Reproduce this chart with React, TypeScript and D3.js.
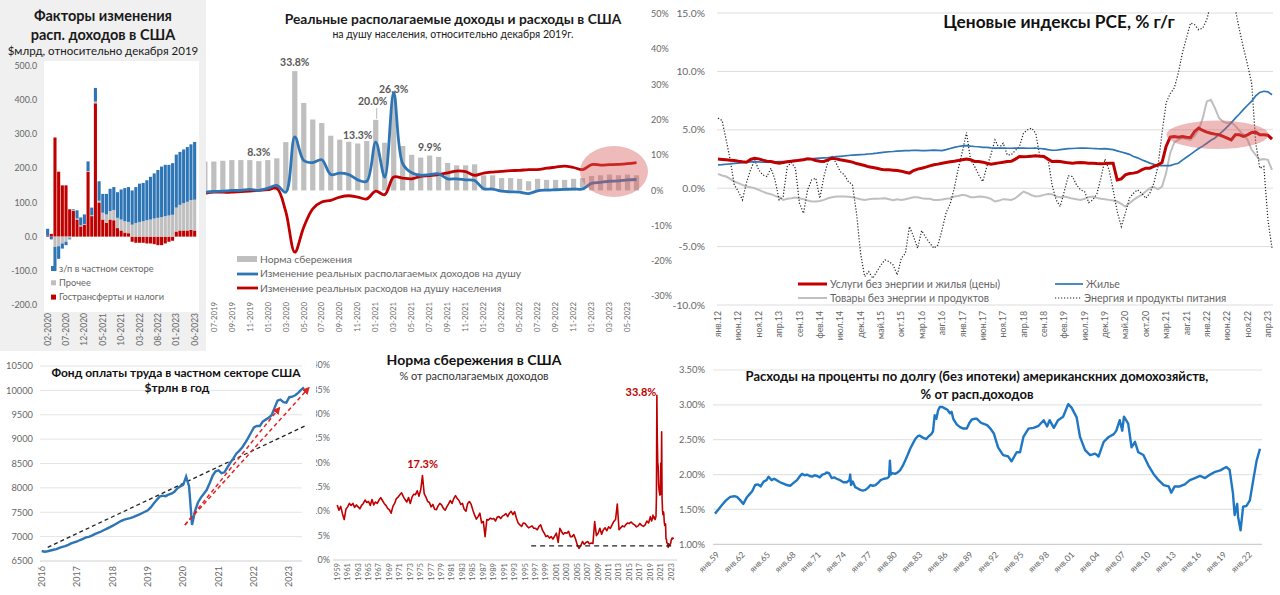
import React from 'react';
import * as d3 from 'd3';

const FONT = "Lato, 'Open Sans', 'DejaVu Sans', sans-serif";
const TXT = '#666666';
const RED = '#C00000';
const BLUE = '#2E75B6';
const LGRAY = '#BFBFBF';
const GRID = '#DDDDDD';

function monthLabels(y0: number, m0: number, n: number): string[] {
  const out: string[] = [];
  for (let i = 0; i < n; i++) {
    const t = m0 - 1 + i;
    const y = y0 + Math.floor(t / 12);
    const m = (t % 12) + 1;
    out.push(`${String(m).padStart(2, '0')}-${y}`);
  }
  return out;
}

// ---------------- Panel 1: factors of disposable income ----------------
const p1Cats = monthLabels(2020, 2, 41);
const p1Red = [3, 8, 290, 190, 150, 150, 80, 75, 50, 30, 35, 190, 60, 390, 100, 50, 40, 50, 48, 25, 18, 12, 10, -15, -18, -18, -18, -20, -20, -22, -25, -25, -20, -15, -12, 15, 18, 18, 18, 20, 18];
const p1Gray = [0, 0, -30, -28, -20, -15, -5, 3, 3, 3, 2, 2, 3, 5, 5, 20, 25, 25, 30, 30, 32, 33, 33, 35, 40, 43, 45, 48, 50, 53, 55, 57, 60, 62, 64, 70, 75, 80, 84, 87, 90];
const p1Blue = [20, -8, -70, -37, -15, -10, -3, 2, 24, 23, 28, 28, 22, 40, 57, 55, 60, 65, 67, 75, 88, 97, 102, 100, 105, 112, 112, 117, 125, 132, 140, 148, 150, 148, 151, 155, 155, 157, 160, 163, 169];
const p1YTicks = [500, 400, 300, 200, 100, 0, -100, -200];
const p1Legend = ['з/п в частном секторе', 'Прочее', 'Гострансферты и налоги'];

// ---------------- Panel 2: real income & spending ----------------
const incCats = monthLabels(2019, 6, 49);
const incSave = [8.2, 8.2, 8.4, 8.6, 8.6, 8.6, 8.3,
  8.6, 9.1, 13.7, 33.8, 24.8, 20.1, 19.1, 15.5, 14.4, 13.8, 13.3, 14.0,
  20.0, 13.5, 26.3, 12.6, 10.1, 9.3, 9.9, 9.5, 7.8, 7.1, 7.1, 7.4,
  4.3, 4.3, 3.5, 3.5, 3.3, 2.6, 3.3, 3.0, 3.0, 3.0, 3.3, 3.5,
  4.1, 4.3, 4.5, 4.3, 4.5, 4.3];
const incIncome = [-0.5, -0.3, -0.2, 0, 0, 0.3, 0,
  0.6, 1.4, -0.5, 15.2, 8.5, 7.9, 8.7, 4.5, 4.9, 4.5, 3.0, 2.6,
  13.7, 3.8, 27.7, 7.6, 5.0, 4.3, 4.5, 4.7, 3.3, 3.3, 3.0, 2.8,
  0.5, 0.4, -0.2, -0.4, -0.5, -0.9, -0.1, 0.1, 0.2, 0.3, 0.4, 0.4,
  2.0, 2.3, 2.6, 2.7, 3.0, 3.1];
const incSpend = [-0.8, -0.5, -0.5, -0.5, -0.3, -0.2, 0,
  0.2, 0.6, -6.0, -17.5, -10.4, -5.2, -3.3, -2.8, -1.9, -1.5, -1.9, -2.4,
  -0.2, -1.2, 3.8, 3.5, 3.3, 4.0, 4.2, 4.5, 5.0, 5.5, 5.3, 4.3,
  4.9, 5.2, 5.4, 5.6, 5.7, 5.9, 5.9, 6.3, 6.6, 6.9, 6.5, 5.9,
  7.3, 7.2, 7.3, 7.4, 7.6, 7.9];
const incLabelIdx = [6, 10, 17, 19, 21, 25];
const incYTicks = [50, 40, 30, 20, 10, 0, -10, -20, -30];
const incLegend = ['Норма сбережения', 'Изменение  реальных располагаемых доходов на душу', 'Изменение  реальных расходов на душу населения'];

// ---------------- Panel 3: PCE price indices ----------------
const pceServ = [2.49, 2.46, 2.43, 2.40, 2.37, 2.31, 2.26, 2.23, 2.46, 2.57,
  2.51, 2.40, 2.31, 2.29, 2.20, 2.14, 2.20, 2.26, 2.31, 2.34,
  2.40, 2.43, 2.51, 2.49, 2.37, 2.31, 2.29, 2.43, 2.57, 2.51,
  2.43, 2.37, 2.31, 2.23, 2.11, 2.03, 1.94, 1.83, 1.77, 1.71,
  1.63, 1.57, 1.57, 1.54, 1.51, 1.46, 1.37, 1.29, 1.51, 1.63,
  1.71, 1.80, 1.91, 2.00, 2.06, 2.14, 2.20, 2.26, 2.31, 2.37,
  2.43, 2.49, 2.43, 2.29, 2.29, 2.23, 2.14, 2.06, 2.11, 2.17,
  2.23, 2.29, 2.31, 2.49, 2.71, 2.69, 2.71, 2.74, 2.77, 2.74,
  2.71, 2.49, 2.29, 2.31, 2.29, 2.23, 2.17, 2.14, 2.17, 2.20,
  2.17, 2.14, 2.14, 2.11, 2.09, 2.11, 2.14, 2.14, 0.71, 0.80,
  1.14, 1.26, 1.29, 1.37, 1.57, 1.71, 1.71, 1.86, 2.00, 2.20,
  3.57, 4.37, 4.43, 4.37, 4.43, 4.37, 4.34, 4.86, 5.14, 4.94,
  4.80, 4.71, 4.63, 4.57, 4.43, 4.29, 4.14, 4.57, 4.57, 4.43,
  4.57, 4.77, 4.80, 4.57, 4.57, 4.54, 4.20];
const pceHous = [2.00, 2.02, 2.05, 2.08, 2.12, 2.14, 2.18, 2.22, 2.26, 2.27,
  2.25, 2.22, 2.22, 2.24, 2.26, 2.27, 2.28, 2.30, 2.34, 2.38,
  2.43, 2.47, 2.50, 2.52, 2.55, 2.58, 2.60, 2.62, 2.66, 2.70,
  2.73, 2.76, 2.80, 2.84, 2.86, 2.88, 2.90, 2.93, 2.96, 3.00,
  3.05, 3.09, 3.12, 3.14, 3.18, 3.20, 3.22, 3.22, 3.25, 3.24,
  3.22, 3.22, 3.24, 3.26, 3.24, 3.22, 3.30, 3.40, 3.50, 3.57,
  3.62, 3.64, 3.60, 3.57, 3.55, 3.50, 3.49, 3.45, 3.43, 3.43,
  3.43, 3.42, 3.42, 3.43, 3.43, 3.43, 3.42, 3.42, 3.43, 3.40,
  3.37, 3.30, 3.25, 3.25, 3.30, 3.35, 3.38, 3.40, 3.42, 3.43,
  3.43, 3.42, 3.40, 3.38, 3.37, 3.38, 3.35, 3.30, 3.20, 3.10,
  3.00, 2.90, 2.71, 2.60, 2.43, 2.30, 2.15, 2.05, 1.96, 1.94,
  1.94, 1.94, 2.05, 2.14, 2.40, 2.65, 2.90, 3.15, 3.40, 3.60,
  3.85, 4.10, 4.30, 4.60, 4.90, 5.25, 5.60, 6.00, 6.35, 6.75,
  7.10, 7.45, 7.90, 8.20, 8.30, 8.25, 8.00];
const pceGoods = [1.23, 1.09, 1.00, 0.80, 0.57, 0.43, 0.29, 0.14, 0.09, 0.00,
  -0.14, -0.29, -0.43, -0.51, -0.66, -0.77, -1.00, -0.91, -0.86, -0.80,
  -0.86, -0.94, -1.06, -1.14, -1.14, -1.09, -1.00, -0.86, -0.77, -0.71,
  -0.71, -0.71, -0.74, -0.77, -0.86, -0.94, -1.00, -0.94, -0.91, -0.91,
  -0.89, -0.86, -0.94, -1.03, -0.94, -1.00, -0.94, -0.86, -0.77, -0.77,
  -0.86, -0.91, -0.91, -1.00, -1.00, -0.97, -0.91, -0.86, -0.71, -0.66,
  -0.57, -0.63, -0.77, -0.77, -0.71, -0.74, -0.80, -0.91, -1.14, -1.06,
  -0.94, -0.97, -1.00, -0.86, -0.57, -0.29, -0.43, -0.60, -0.71, -0.66,
  -0.57, -0.49, -0.51, -0.71, -0.77, -0.71, -0.80, -0.89, -0.94, -1.00,
  -0.91, -0.77, -0.71, -0.83, -0.91, -0.94, -1.00, -1.06, -1.14, -1.34,
  -1.57, -1.29, -1.00, -0.77, -0.57, -0.29, 0.00, 0.09, -0.09, 0.14,
  1.29, 3.00, 3.91, 4.14, 4.29, 4.20, 4.14, 4.49, 5.00, 6.00,
  7.43, 7.57, 6.86, 6.00, 5.71, 5.57, 5.66, 5.34, 4.94, 4.57,
  4.14, 3.29, 2.86, 2.43, 2.49, 2.43, 1.57];
const pceEnergy = [6.00, 5.80, 4.14, 2.43, 0.29, -0.29, -1.00, 0.49, 1.57, 2.43,
  1.57, 1.14, 1.00, 1.71, 0.71, -1.00, -0.71, 1.86, 2.20, 1.71,
  -1.29, -2.14, -0.14, 0.71, 0.86, -0.86, 1.00, 2.29, 2.71, 2.14,
  1.43, 1.14, 0.57, 0.29, -2.14, -5.57, -7.57, -7.14, -7.71, -7.14,
  -6.57, -6.14, -6.29, -6.57, -7.43, -6.00, -5.57, -3.29, -4.14, -5.14,
  -3.63, -4.20, -4.71, -5.14, -4.86, -3.57, -2.09, -1.34, 0.00, 1.71,
  3.14, 4.77, 2.43, 1.86, 1.14, 0.57, 1.86, 2.86, 4.14, 3.43,
  3.86, 2.86, 2.86, 3.23, 3.57, 4.71, 5.00, 5.14, 4.71, 2.71,
  2.77, 2.57, 0.29, -1.00, -1.57, -0.29, 1.06, 1.00, 0.29, -0.14,
  -0.29, -1.23, -1.00, -0.49, 0.86, 2.49, 1.57, -0.14, -2.00, -3.29,
  -2.14, -0.86, -0.43, -0.14, -0.43, -0.86, -0.43, 0.43, 1.86, 4.71,
  7.29, 8.09, 8.57, 9.86, 11.57, 12.86, 14.14, 14.00, 13.57, 13.71,
  14.43, 15.86, 17.00, 18.00, 18.50, 18.00, 16.50, 15.29, 13.57, 12.00,
  10.57, 9.00, 3.90, 1.71, 1.86, -2.71, -5.14];
const pceTicks = ['янв.12', 'июн.12', 'ноя.12', 'апр.13', 'сен.13', 'фев.14', 'июл.14', 'дек.14', 'май.15', 'окт.15', 'мар.16', 'авг.16', 'янв.17', 'июн.17', 'ноя.17', 'апр.18', 'сен.18', 'фев.19', 'июл.19', 'дек.19', 'май.20', 'окт.20', 'мар.21', 'авг.21', 'янв.22', 'июн.22', 'ноя.22', 'апр.23'];
const pceYTicks = [15, 10, 5, 0, -5, -10];

// ---------------- Panel 4: private payroll ----------------
const payroll = [
  6705, 6690, 6700, 6715, 6730, 6745, 6770, 6790, 6805, 6830, 6860, 6880,
  6900, 6930, 6955, 6985, 6995, 7020, 7050, 7075, 7100, 7130, 7160, 7190,
  7220, 7255, 7290, 7325, 7350, 7365, 7380, 7400, 7425, 7450, 7480, 7510,
  7540, 7600, 7680, 7750, 7820, 7840, 7830, 7860, 7880, 7920, 7990, 8030,
  8060, 8230, 8030, 7240, 7520, 7700, 7800, 7880, 7960, 8100, 8250, 8340,
  8360, 8300, 8320, 8420, 8520, 8600, 8700, 8760, 8830, 8920, 9020, 9130,
  9240, 9270, 9270, 9360, 9400, 9440, 9490, 9640, 9790, 9810, 9760, 9750,
  9860, 9870, 9900, 9950, 10010, 10060];
const payTrendX = [2016.17, 2023.5];
const payTrendY = [6780, 9290];
const payArrowAX = [2020.05, 2022.72];
const payArrowAY = [7240, 9640];
const payArrowBX = [2020.05, 2023.55];
const payArrowBY = [7240, 10050];
const payYTicks = [10500, 10000, 9500, 9000, 8500, 8000, 7500, 7000, 6500];
const payXTicks = [2016, 2017, 2018, 2019, 2020, 2021, 2022, 2023];

// ---------------- Panel 5: saving rate ----------------
const savEarly = [
  11.3, 10.2, 11.0, 9.5, 8.3, 10.4, 10.9, 11.6, 11.2, 11.6, 10.8, 11.3, 10.9, 10.5, 11.2,
  11.6, 12.3, 11.8, 12.0, 11.2, 12.4, 11.3, 11.9, 11.6, 12.3, 12.8, 12.2, 11.6, 11.2, 10.6,
  10.3, 9.6, 11.0, 11.6, 12.6, 12.9, 13.4, 13.8, 13.0, 12.4, 11.9, 12.8, 11.6, 12.9, 13.5,
  13.4, 14.2, 13.1, 14.4, 17.3, 13.6, 12.9, 12.0, 11.8, 10.9, 11.4, 10.4, 10.3, 11.1, 11.6,
  11.3, 10.6, 10.2, 10.9, 11.5, 12.2, 11.6, 12.6, 13.2, 12.6, 12.2, 11.4, 11.6, 10.4, 10.0,
  11.6, 12.0, 11.4, 10.2, 9.2, 8.4, 8.9, 9.6, 7.6, 7.9, 4.8, 8.3, 8.2, 8.6, 8.4,
  8.5, 8.0, 8.8, 8.9, 8.5, 9.0, 9.2, 9.5, 8.9, 9.6, 10.0, 9.3, 9.9, 8.6, 7.6,
  7.2, 6.9, 7.6, 7.5, 7.0, 6.6, 6.8, 7.0, 6.5, 6.5, 6.2, 6.9, 7.2, 6.1, 5.5,
  4.8, 5.0, 4.5, 4.8, 4.3, 4.9, 5.5, 3.6, 6.5, 5.8, 5.3, 5.6, 5.5, 5.9, 4.8,
  4.8, 5.2, 4.3, 3.1, 2.4, 2.9, 3.8, 3.2, 3.6, 3.8, 3.3, 3.5, 3.4, 7.9, 5.0,
  5.5, 6.5, 5.3, 6.2, 6.6, 6.0, 6.8, 6.5, 7.2, 7.9, 8.3, 11.5, 6.2, 6.6, 7.0,
  6.8, 7.3, 7.6, 7.5, 7.8, 7.4, 7.2, 6.8, 7.0, 7.5, 7.1, 6.9, 7.2, 8.0, 7.6];
const savRecent = [
  8.9, 8.5, 8.2, 8.0, 8.3, 8.6, 9.2, 8.9, 8.8, 8.5, 8.8, 8.3,
  8.6, 9.0, 12.9, 33.8, 24.8, 20.1, 19.1, 15.5, 14.4, 13.8, 13.3, 14.0,
  19.9, 13.5, 26.3, 12.6, 10.1, 9.3, 9.9, 9.5, 7.8, 7.1, 7.1, 7.4,
  4.3, 4.3, 3.5, 3.5, 3.3, 2.6, 3.3, 3.0, 3.0, 3.0, 3.3, 3.5,
  4.1, 4.3, 4.5, 4.3, 4.5, 4.3];
const savFloorX = [1996.2, 2023.6];
const savFloorY = [2.9, 2.9];
const savYTicks = [40, 35, 30, 25, 20, 15, 10, 5, 0];
const savXTicks = d3.range(1959, 2024, 2);

// ---------------- Panel 6: debt service ----------------
const debtYears = [1959.0, 1959.4, 1959.8, 1960.3, 1960.8, 1961.3, 1961.6, 1962.0, 1962.35, 1962.75,
  1963.1, 1963.4, 1963.75, 1964.1, 1964.4, 1964.75, 1965.1, 1965.35, 1965.7, 1966.0,
  1966.3, 1966.7, 1967.1, 1967.5, 1967.9, 1968.3, 1968.7, 1969.0, 1969.3, 1969.6,
  1969.9, 1970.2, 1970.5, 1970.8, 1971.1, 1971.4, 1971.7, 1972.0, 1972.2, 1972.5,
  1972.8, 1973.1, 1973.4, 1973.8, 1974.2, 1974.6, 1974.9, 1975.0, 1975.1, 1975.3,
  1975.6, 1975.9, 1976.2, 1976.5, 1976.8, 1977.1, 1977.4, 1977.7, 1978.0, 1978.3,
  1978.6, 1979.0, 1979.4, 1979.6, 1979.7, 1979.8, 1980.0, 1980.3, 1980.6, 1980.9,
  1981.2, 1981.5, 1981.8, 1982.1, 1982.4, 1982.7, 1983.0, 1983.2, 1983.6, 1984.0,
  1984.3, 1984.6, 1984.8, 1985.0, 1985.2, 1985.4, 1985.6, 1985.9, 1986.2, 1986.5,
  1986.8, 1987.0, 1987.2, 1987.6, 1988.0, 1988.4, 1988.8, 1989.1, 1989.4, 1989.7,
  1990.0, 1990.5, 1991.2, 1991.6, 1992.0, 1992.5, 1993.1, 1993.7, 1994.1, 1994.7,
  1995.1, 1995.5, 1996.1, 1996.7, 1997.3, 1997.9, 1998.3, 1998.6, 1999.1, 1999.6,
  2000.2, 2000.8, 2001.2, 2001.8, 2002.2, 2002.8, 2003.4, 2004.0, 2004.4, 2005.0,
  2005.6, 2006.2, 2006.5, 2006.9, 2007.2, 2007.4, 2007.9, 2008.3, 2008.7, 2009.1,
  2009.7, 2010.3, 2010.9, 2011.5, 2012.1, 2012.7, 2013.0, 2013.4, 2014.0, 2014.6,
  2015.2, 2015.8, 2016.4, 2017.0, 2017.6, 2018.2, 2018.8, 2019.5, 2019.9, 2020.3,
  2020.5, 2020.8, 2020.9, 2021.2, 2021.5, 2021.9, 2022.3, 2022.7, 2023.1, 2023.5];
const debtVals = [1.44, 1.50, 1.56, 1.63, 1.68, 1.69, 1.68, 1.63, 1.58, 1.67,
  1.72, 1.76, 1.85, 1.86, 1.83, 1.90, 1.92, 1.97, 1.92, 1.94,
  1.92, 1.89, 1.87, 1.85, 1.84, 1.88, 1.92, 1.97, 2.01, 1.99,
  2.00, 1.98, 1.97, 1.99, 1.98, 1.96, 2.00, 2.01, 2.03, 2.02,
  1.95, 1.96, 1.94, 1.92, 1.89, 1.89, 1.92, 2.00, 1.85, 1.90,
  1.82, 1.80, 1.78, 1.77, 1.78, 1.81, 1.85, 1.84, 1.85, 1.88,
  1.92, 1.94, 1.95, 1.97, 2.20, 2.00, 2.02, 2.01, 2.03, 2.06,
  2.12, 2.20, 2.28, 2.37, 2.44, 2.51, 2.55, 2.56, 2.53, 2.51,
  2.55, 2.58, 2.62, 2.85, 2.80, 2.92, 2.97, 2.97, 2.95, 2.93,
  2.88, 2.90, 2.80, 2.72, 2.68, 2.66, 2.66, 2.74, 2.79, 2.80,
  2.80, 2.74, 2.71, 2.66, 2.59, 2.39, 2.28, 2.26, 2.19, 2.32,
  2.32, 2.54, 2.66, 2.67, 2.70, 2.78, 2.69, 2.78, 2.67, 2.78,
  2.83, 3.01, 2.96, 2.82, 2.54, 2.35, 2.28, 2.30, 2.26, 2.47,
  2.54, 2.58, 2.63, 2.78, 2.63, 2.83, 2.73, 2.39, 2.47, 2.32,
  2.28, 2.13, 2.01, 1.92, 1.85, 1.83, 1.74, 1.83, 1.83, 1.86,
  1.92, 1.95, 1.98, 1.95, 2.00, 2.04, 2.06, 2.11, 2.07, 1.73,
  1.42, 1.58, 1.40, 1.20, 1.54, 1.55, 1.63, 1.92, 2.20, 2.37];
const debtYTicks = [3.5, 3.0, 2.5, 2.0, 1.5, 1.0];
const debtXTicks = d3.range(1959, 2023, 3);

// ======================================================================

function PanelFactors() {
  const x = d3.scaleBand<string>().domain(p1Cats).range([45.5, 45.5 + 41 * 3.69]).padding(0.16);
  const y = d3.scaleLinear().domain([-200, 500]).range([305, 65.7]);
  const rows = p1Cats.map((c, i) => ({ cat: c, red: p1Red[i], gray: p1Gray[i], blue: p1Blue[i] }));
  const series = d3.stack<any>().keys(['red', 'gray', 'blue']).offset(d3.stackOffsetDiverging)(rows);
  const col: Record<string, string> = { red: RED, gray: LGRAY, blue: BLUE };
  const legCols = [BLUE, LGRAY, RED];
  return (
    <g>
      <rect x={0} y={0} width={206} height={351} fill="#F0F0F0" />
      <rect x={44} y={61} width={155} height={251} fill="#FFFFFF" />
      <text x={103} y={21} textAnchor="middle" fontSize={14.5} fontWeight={700} fill="#1a1a1a">Факторы изменения</text>
      <text x={103} y={40} textAnchor="middle" fontSize={14.5} fontWeight={700} fill="#1a1a1a">расп. доходов в США</text>
      <text x={103} y={55} textAnchor="middle" fontSize={11.5} fill="#1a1a1a">$млрд, относительно декабря 2019</text>
      {p1YTicks.map((t) => (
        <text key={t} x={37} y={y(t)} dy="0.35em" textAnchor="end" fontSize={8.8} fill={TXT}>{t.toFixed(1)}</text>
      ))}
      {series.map((s) => (
        <g key={s.key} fill={col[s.key]}>
          {s.map((d: any, i: number) => (
            <rect key={i} x={x(p1Cats[i])} y={y(Math.max(d[0], d[1]))} width={x.bandwidth()} height={Math.abs(y(d[0]) - y(d[1]))} />
          ))}
        </g>
      ))}
      {p1Legend.map((t, i) => (
        <g key={t}>
          <rect x={51} y={266 + i * 14.3} width={5} height={5} fill={legCols[i]} />
          <text x={59} y={268.5 + i * 14.3} dy="0.35em" fontSize={9.3} fill={TXT}>{t}</text>
        </g>
      ))}
      {p1Cats.map((c, i) => i % 5 === 0 ? (
        <text key={c} transform={`translate(${(x(c) as number) + x.bandwidth() / 2},${313}) rotate(-90)`} textAnchor="end" dy="0.35em" fontSize={8.5} fill={TXT}>{c}</text>
      ) : null)}
    </g>
  );
}

function PanelIncome() {
  const step = 9.07;
  const x = d3.scaleBand<string>().domain(incCats).range([203 - step / 2, 203 + (incCats.length - 0.5) * step]).padding(0.42);
  const cx = (i: number) => (x(incCats[i]) as number) + x.bandwidth() / 2;
  const y = d3.scaleLinear().domain([-30, 50]).range([296.3, 14]);
  const line = d3.line<number>().x((_, i) => cx(i)).y((d) => y(d)).curve(d3.curveCatmullRom.alpha(0.5));
  return (
    <g>
      <text x={453} y={24} textAnchor="middle" fontSize={13.8} fontWeight={700} fill="#1a1a1a">Реальные располагаемые доходы и расходы в США</text>
      <text x={453} y={38} textAnchor="middle" fontSize={10.5} fill="#1a1a1a">на душу населения, относительно декабря 2019г.</text>
      {incYTicks.map((t) => (
        <text key={t} x={651} y={y(t)} dy="0.35em" fontSize={9} fill={TXT}>{`${t}%`}</text>
      ))}
      {incSave.map((v, i) => (
        <rect key={i} x={x(incCats[i])} y={y(v)} width={x.bandwidth()} height={y(0) - y(v)} fill={LGRAY} />
      ))}
      <path d={line(incSpend) || ''} fill="none" stroke={RED} strokeWidth={2.8} />
      <path d={line(incIncome) || ''} fill="none" stroke={BLUE} strokeWidth={2.8} />
      {incLabelIdx.map((i) => {
        const v = incSave[i];
        const lead = i === 19;
        const ty = lead ? y(v) - 15 : y(v) - 5;
        return (
          <g key={i}>
            {lead && <line x1={cx(i) + 1} x2={cx(i) + 1} y1={y(v) - 12} y2={y(v) - 1} stroke="#A6A6A6" strokeWidth={0.8} />}
            <text x={cx(i) + (lead ? -3 : 0)} y={ty} textAnchor="middle" fontSize={10.5} fontWeight={700} fill="#595959">{`${v.toFixed(1)}%`}</text>
          </g>
        );
      })}
      <ellipse cx={614} cy={171.5} rx={34} ry={25.5} fill="rgb(215,90,90)" fillOpacity={0.42} />
      <rect x={237} y={256} width={20} height={6} fill={LGRAY} />
      <line x1={237} x2={258} y1={274} y2={274} stroke={BLUE} strokeWidth={2.8} />
      <line x1={237} x2={258} y1={288} y2={288} stroke={RED} strokeWidth={2.8} />
      {incLegend.map((t, i) => (
        <text key={t} x={260} y={259.5 + i * 14.3} dy="0.35em" fontSize={10.3} fill={TXT}>{t}</text>
      ))}
      {incCats.map((c, i) => i % 2 === 1 ? (
        <text key={c} transform={`translate(${cx(i)},${302}) rotate(-90)`} textAnchor="end" dy="0.35em" fontSize={7.8} fill={TXT}>{c}</text>
      ) : null)}
    </g>
  );
}

function PanelPCE() {
  const x = d3.scaleLinear().domain([0, 136]).range([718, 1272]);
  const y = d3.scaleLinear().domain([-10, 15]).range([305, 13]);
  const line = d3.line<number>().x((_, i) => x(i)).y((d) => y(d));
  return (
    <g>
      {pceYTicks.map((t) => (
        <g key={t}>
          <line x1={717} x2={1273} y1={y(t)} y2={y(t)} stroke={GRID} strokeWidth={1} />
          <text x={705} y={y(t)} dy="0.35em" textAnchor="end" fontSize={10.3} fill={TXT}>{`${t.toFixed(1)}%`}</text>
        </g>
      ))}
      <text x={1059} y={28} textAnchor="middle" fontSize={17.3} fontWeight={700} fill="#111">Ценовые индексы PCE, % г/г</text>
      <g clipPath="url(#pceClip)">
        <path d={line(pceGoods) || ''} fill="none" stroke={LGRAY} strokeWidth={2} />
        <path d={line(pceEnergy) || ''} fill="none" stroke="#222" strokeWidth={1.2} strokeDasharray="1.2 1.8" />
        <path d={line(pceHous) || ''} fill="none" stroke={BLUE} strokeWidth={1.7} />
        <path d={line(pceServ) || ''} fill="none" stroke={RED} strokeWidth={3} />
      </g>
      <ellipse cx={1217.5} cy={134.8} rx={51} ry={14.2} fill="rgb(215,90,90)" fillOpacity={0.42} />
      {pceTicks.map((t, k) => (
        <text key={t} transform={`translate(${x(k * 5)},${311}) rotate(-90)`} textAnchor="end" dy="0.35em" fontSize={8.8} fill={TXT}>{t}</text>
      ))}
      <line x1={798} x2={827} y1={284} y2={284} stroke={RED} strokeWidth={3} />
      <text x={830} y={284} dy="0.35em" fontSize={10.6} fill={TXT}>Услуги без энергии и жилья (цены)</text>
      <line x1={1055} x2={1083} y1={284} y2={284} stroke={BLUE} strokeWidth={1.7} />
      <text x={1086} y={284} dy="0.35em" fontSize={10.6} fill={TXT}>Жилье</text>
      <line x1={798} x2={827} y1={298} y2={298} stroke={LGRAY} strokeWidth={2} />
      <text x={830} y={298} dy="0.35em" fontSize={10.6} fill={TXT}>Товары без энергии и продуктов</text>
      <line x1={1055} x2={1081} y1={298} y2={298} stroke="#222" strokeWidth={1.2} strokeDasharray="1.2 1.8" />
      <text x={1084} y={298} dy="0.35em" fontSize={10.6} fill={TXT}>Энергия и продукты питания</text>
    </g>
  );
}

function PanelSaving() {
  const x = d3.scaleLinear().domain([1959, 2023]).range([337, 671]);
  const y = d3.scaleLinear().domain([0, 40]).range([560, 365]);
  const pts: [number, number][] = [
    ...savEarly.map((v, i) => [1959 + i / 3 + 1 / 24, v] as [number, number]),
    ...savRecent.map((v, j) => [2019 + j / 12 + 1 / 24, v] as [number, number]),
  ];
  const line = d3.line<[number, number]>().x((d) => x(d[0])).y((d) => y(d[1]));
  return (
    <g>
      {savYTicks.map((t) => (
        <text key={t} x={330} y={y(t)} dy="0.35em" textAnchor="end" fontSize={9} fill={TXT}>{`${t}%`}</text>
      ))}
      <text x={474} y={365} textAnchor="middle" fontSize={14} fontWeight={700} fill="#111">Норма сбережения в США</text>
      <text x={474} y={380} textAnchor="middle" fontSize={11} fill="#333">%  от располагаемых доходов</text>
      <line x1={333} x2={677} y1={y(0)} y2={y(0)} stroke="#D0D0D0" strokeWidth={1} />
      <path d={line(pts) || ''} fill="none" stroke={RED} strokeWidth={1.6} strokeLinejoin="round" />
      <line x1={x(savFloorX[0])} x2={x(savFloorX[1])} y1={y(savFloorY[0])} y2={y(savFloorY[1])} stroke="#222" strokeWidth={1.3} strokeDasharray="5 4" />
      <text x={x(1975.4)} y={y(17.3) - 8} textAnchor="middle" fontSize={11} fontWeight={700} fill={RED}>17.3%</text>
      <text x={x(2020.3) - 16} y={y(33.8) + 1} textAnchor="middle" fontSize={11} fontWeight={700} fill={RED}>33.8%</text>
      {savXTicks.map((t) => (
        <text key={t} transform={`translate(${x(t)},${563}) rotate(-90)`} textAnchor="end" dy="0.35em" fontSize={7.6} fill={TXT}>{t}</text>
      ))}
    </g>
  );
}

function PanelPayroll() {
  const x = d3.scaleLinear().domain([2016, 2023]).range([41.7, 289.3]);
  const y = d3.scaleLinear().domain([6500, 10500]).range([561, 366]);
  const line = d3.line<number>().x((_, i) => x(2016 + i / 12)).y((d) => y(d));
  return (
    <g>
      <rect x={0} y={352} width={316} height={243} fill="#FFFFFF" />
      {payYTicks.map((t) => (
        <g key={t}>
          <line x1={40} x2={302} y1={y(t)} y2={y(t)} stroke={t === 6500 ? '#CFCFCF' : '#E4E4E4'} strokeWidth={1} />
          <text x={33} y={y(t)} dy="0.35em" textAnchor="end" fontSize={9.3} fill={TXT}>{t}</text>
        </g>
      ))}
      <text x={176} y={377} textAnchor="middle" fontSize={12} fontWeight={700} fill="#111">Фонд оплаты труда в частном секторе США</text>
      <text x={177} y={392} textAnchor="middle" fontSize={12} fontWeight={700} fill="#111">$трлн в год</text>
      <line x1={x(payTrendX[0])} x2={x(payTrendX[1])} y1={y(payTrendY[0])} y2={y(payTrendY[1])} stroke="#222" strokeWidth={1.3} strokeDasharray="4 3" />
      <path d={line(payroll) || ''} fill="none" stroke={BLUE} strokeWidth={2.4} />
      <line x1={x(payArrowAX[0])} x2={x(payArrowAX[1])} y1={y(payArrowAY[0])} y2={y(payArrowAY[1])} stroke="#E02424" strokeWidth={1.5} strokeDasharray="4 3" markerEnd="url(#arrRed)" />
      <line x1={x(payArrowBX[0])} x2={x(payArrowBX[1])} y1={y(payArrowBY[0])} y2={y(payArrowBY[1])} stroke="#E02424" strokeWidth={1.5} strokeDasharray="4 3" markerEnd="url(#arrRed)" />
      {payXTicks.map((t) => (
        <text key={t} transform={`translate(${x(t)},${566}) rotate(-90)`} textAnchor="end" dy="0.35em" fontSize={9} fill={TXT}>{t}</text>
      ))}
    </g>
  );
}

function PanelDebt() {
  const x = d3.scaleLinear().domain([1959, 2023.5]).range([715, 1260]);
  const y = d3.scaleLinear().domain([1.0, 3.5]).range([544.3, 370]);
  const line = d3.line<number>().x((_, i) => x(debtYears[i])).y((d) => y(d));
  return (
    <g>
      {debtYTicks.map((t) => (
        <g key={t}>
          <line x1={713} x2={1262} y1={y(t)} y2={y(t)} stroke={t === 1 ? '#CFCFCF' : '#E4E4E4'} strokeWidth={1.2} />
          <text x={705} y={y(t)} dy="0.35em" textAnchor="end" fontSize={9.4} fill={TXT}>{`${t.toFixed(2)}%`}</text>
        </g>
      ))}
      <text x={977} y={381} textAnchor="middle" fontSize={13} fontWeight={700} fill="#111">Расходы на проценты по долгу (без ипотеки) американскних домохозяйств,</text>
      <text x={977} y={399} textAnchor="middle" fontSize={13} fontWeight={700} fill="#111">% от расп.доходов</text>
      <path d={line(debtVals) || ''} fill="none" stroke="#1F77C4" strokeWidth={2.4} strokeLinejoin="round" />
      {debtXTicks.map((t) => (
        <text key={t} transform={`translate(${x(t) + 3},${553}) rotate(-45)`} textAnchor="end" dy="0.35em" fontSize={8.6} fill={TXT}>{`янв.${String(t).slice(2)}`}</text>
      ))}
    </g>
  );
}

export default function App() {
  return (
    <svg width={1280} height={595} style={{ position: 'absolute', left: 0, top: 0, background: '#fff', fontFamily: FONT }}>
      <defs>
        <clipPath id="pceClip"><rect x={710} y={11} width={570} height={300} /></clipPath>
        <marker id="arrRed" viewBox="0 0 10 10" refX="8" refY="5" markerWidth="5" markerHeight="5" orient="auto">
          <path d="M0,0 L10,5 L0,10 z" fill="#E02424" />
        </marker>
      </defs>
      <rect x={0} y={0} width={1280} height={595} fill="#fff" />
      <PanelIncome />
      <PanelFactors />
      <PanelPCE />
      <PanelSaving />
      <PanelPayroll />
      <PanelDebt />
    </svg>
  );
}
